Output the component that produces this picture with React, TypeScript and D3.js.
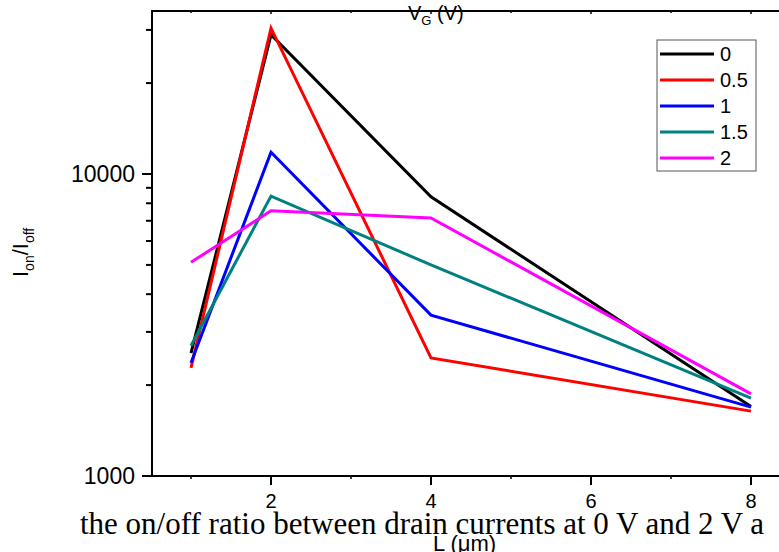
import React from "react";
import * as d3 from "d3";

const lengths = [1, 2, 4, 8];
const seriesNames = ["0", "0.5", "1", "1.5", "2"];
const ratioVg0 = [2550, 28900, 8400, 1700];
const ratioVg05 = [2280, 30400, 2460, 1640];
const ratioVg1 = [2370, 11800, 3410, 1690];
const ratioVg15 = [2700, 8450, 5000, 1810];
const ratioVg2 = [5100, 7550, 7150, 1870];
const seriesColors = ["#000000", "#ff0000", "#0000ff", "#008080", "#ff00ff"];
const xMajorTicks = [2, 4, 6, 8];
const xMinorTicks = [1, 3, 5, 7];
const yMajorTicks = [1000, 10000];
const yMinorTicks = [2000, 3000, 4000, 5000, 6000, 7000, 8000, 9000, 20000, 30000];

const W = 779;
const H = 552;
const LEFT = 152;
const TOP = 11;
const BOTTOM = 476;

export default function App() {
  const x = d3.scaleLinear().domain([0.5125, 8.35]).range([LEFT, W]);
  const y = d3.scaleLog().domain([1000, 10000]).range([BOTTOM, 174]);
  const allSeries = [ratioVg0, ratioVg05, ratioVg1, ratioVg15, ratioVg2];
  const line = d3
    .line<[number, number]>()
    .x((d) => x(d[0]))
    .y((d) => y(d[1]));
  const sans = "Arial, 'Liberation Sans', sans-serif";

  return (
    <div style={{ position: "absolute", left: 0, top: 0 }}>
      <svg width={W} height={H} style={{ display: "block", background: "#fff" }}>
        <rect x={0} y={0} width={W} height={H} fill="#fff" />
        {/* data lines */}
        {allSeries.map((s, i) => (
          <path
            key={i}
            d={line(lengths.map((l, j) => [l, s[j]] as [number, number])) || ""}
            fill="none"
            stroke={seriesColors[i]}
            strokeWidth={3}
            strokeLinejoin="miter"
          />
        ))}
        {/* axes lines */}
        <line x1={LEFT} x2={LEFT} y1={TOP - 1} y2={BOTTOM + 1} stroke="#000" strokeWidth={2} />
        <line x1={LEFT - 1} x2={W} y1={BOTTOM} y2={BOTTOM} stroke="#000" strokeWidth={2} />
        <line x1={LEFT - 1} x2={W} y1={TOP} y2={TOP} stroke="#000" strokeWidth={2} />
        {/* bottom ticks */}
        {xMajorTicks.map((t) => (
          <g key={"bx" + t}>
            <line x1={x(t)} x2={x(t)} y1={BOTTOM} y2={BOTTOM + 9} stroke="#000" strokeWidth={2} />
            <text x={x(t)} y={508} textAnchor="middle" fontFamily={sans} fontSize={20} fill="#000">
              {t}
            </text>
            <line x1={x(t)} x2={x(t)} y1={TOP} y2={TOP + 3} stroke="#000" strokeWidth={1.5} />
          </g>
        ))}
        {xMinorTicks.map((t) => (
          <g key={"bm" + t}>
            <line x1={x(t)} x2={x(t)} y1={BOTTOM} y2={BOTTOM + 3} stroke="#000" strokeWidth={1.5} />
            <line x1={x(t)} x2={x(t)} y1={TOP} y2={TOP + 2} stroke="#000" strokeWidth={1.5} />
          </g>
        ))}
        {/* left ticks */}
        {yMajorTicks.map((t) => (
          <g key={"ly" + t}>
            <line x1={LEFT - 10} x2={LEFT} y1={y(t)} y2={y(t)} stroke="#000" strokeWidth={2} />
            <text x={135} y={y(t) + 8} textAnchor="end" fontFamily={sans} fontSize={23} fill="#000">
              {t}
            </text>
          </g>
        ))}
        {yMinorTicks.map((t) => (
          <line key={"lm" + t} x1={LEFT - 6} x2={LEFT} y1={y(t)} y2={y(t)} stroke="#000" strokeWidth={2} />
        ))}
        {/* y label */}
        <text
          transform="translate(28,277) rotate(-90)"
          fontFamily={sans}
          fontSize={22}
          fill="#000"
        >
          <tspan>I</tspan>
          <tspan fontSize={14} dy={6}>on</tspan>
          <tspan dy={-6}>/I</tspan>
          <tspan fontSize={14} dy={6}>off</tspan>
        </text>
        {/* top label */}
        <text x={408} y={20} fontFamily={sans} fontSize={20} fill="#000">
          <tspan>V</tspan>
          <tspan fontSize={13} dy={5}>G</tspan>
          <tspan dy={-5}> (V)</tspan>
        </text>
        {/* legend */}
        <rect x={657} y={40} width={99} height={131} fill="#fff" stroke="#555" strokeWidth={1} />
        {seriesNames.map((n, i) => (
          <g key={"lg" + n}>
            <line x1={660} x2={714} y1={54 + i * 26} y2={54 + i * 26} stroke={seriesColors[i]} strokeWidth={3} />
            <text x={720} y={54 + i * 26 + 7} fontFamily={sans} fontSize={20} fill="#000">
              {n}
            </text>
          </g>
        ))}
        {/* caption */}
        <text x={80} y={534} fontFamily="'Times New Roman', 'Liberation Serif', serif" fontSize={31} fill="#000">
          the on/off ratio between drain currents at 0 V and 2 V a
        </text>
        {/* x label */}
        <text x={433} y={551} fontFamily={sans} fontSize={22} fill="#000">
          L (μm)
        </text>
      </svg>
    </div>
  );
}
